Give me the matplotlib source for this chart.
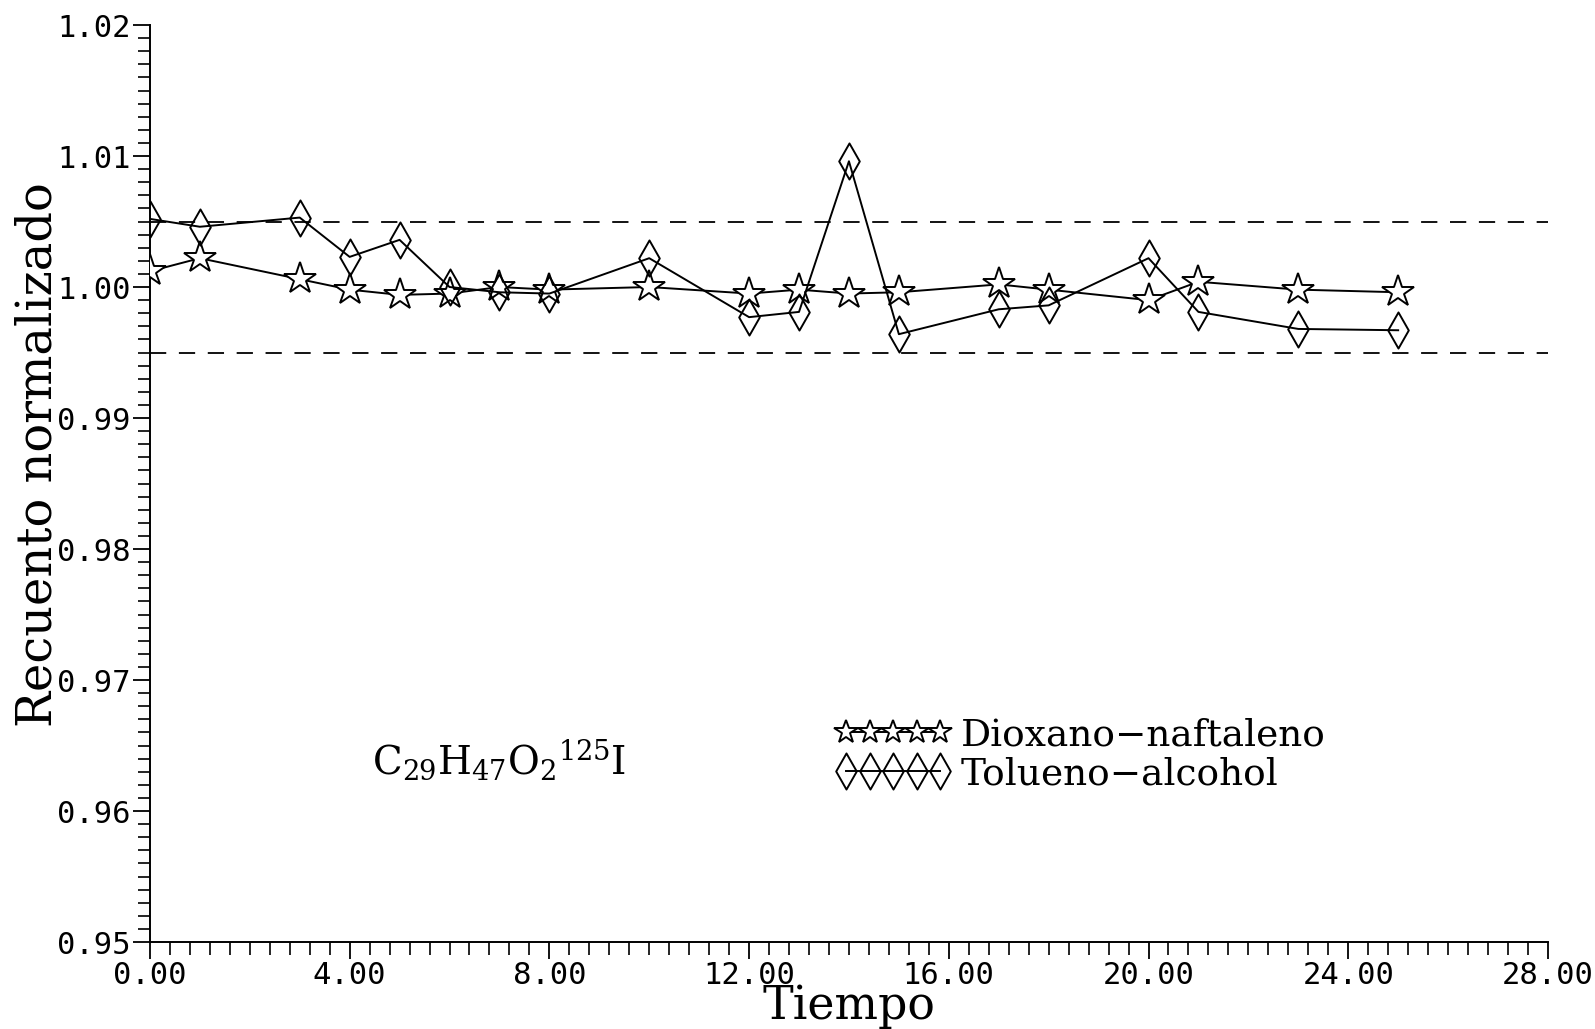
import matplotlib
matplotlib.use("Agg")
import matplotlib.pyplot as plt
from matplotlib.path import Path
from matplotlib.ticker import MultipleLocator, FormatStrFormatter

# ---- data ----
tiempo_dioxano = [0, 1, 3, 4, 5, 6, 7, 8, 10, 12, 13, 14, 15, 17, 18, 20, 21, 23, 25]
dioxano = [1.0012, 1.0022, 1.0006, 0.9998, 0.9994, 0.9995, 1.0000, 0.9998, 1.0000,
           0.9995, 0.9998, 0.9995, 0.9996, 1.0002, 0.9998, 0.9990, 1.0004, 0.9998, 0.9996]

tiempo_tolueno = [0, 1, 3, 4, 5, 6, 7, 8, 10, 12, 13, 14, 15, 17, 18, 20, 21, 23, 25]
tolueno = [1.0052, 1.0046, 1.0053, 1.0023, 1.0036, 1.0000, 0.9996, 0.9995, 1.0022,
           0.9977, 0.9981, 1.0096, 0.9964, 0.9983, 0.9986, 1.0022, 0.9981, 0.9968, 0.9967]

limites = [1.005, 0.995]
label_dioxano = "Dioxano\u2212naftaleno"
label_tolueno = "Tolueno\u2212alcohol"
formula = r"$\mathrm{C_{29}H_{47}O_{2}{}^{125}I}$"
xlabel = "Tiempo"
ylabel = "Recuento normalizado"

# ---- figure ----
plt.rcParams["mathtext.fontset"] = "dejavuserif"
fig = plt.figure(figsize=(15.95, 10.29), dpi=100)
ax = fig.add_axes([0.094, 0.0845, 0.8765, 0.8912])

diamond = Path([(0, 1), (0.57, 0), (0, -1), (-0.57, 0), (0, 1)],
               [Path.MOVETO, Path.LINETO, Path.LINETO, Path.LINETO, Path.CLOSEPOLY])

for yl in limites:
    ax.plot([0, 28], [yl, yl], color="black", lw=1.3, ls=(0, (9, 7)))

ax.plot(tiempo_dioxano, dioxano, color="black", lw=1.4, marker="*", markersize=24,
        markerfacecolor="white", markeredgecolor="black", markeredgewidth=1.4,
        label=label_dioxano, zorder=3)
ax.plot(tiempo_tolueno, tolueno, color="black", lw=1.4, marker=diamond, markersize=26,
        markerfacecolor="none", markeredgecolor="black", markeredgewidth=1.4,
        label=label_tolueno, zorder=3)

ax.set_xlim(0, 28)
ax.set_ylim(0.95, 1.02)

ax.xaxis.set_major_locator(MultipleLocator(4))
ax.xaxis.set_minor_locator(MultipleLocator(0.4))
ax.yaxis.set_major_locator(MultipleLocator(0.01))
ax.yaxis.set_minor_locator(MultipleLocator(0.001))
ax.xaxis.set_major_formatter(FormatStrFormatter("%.2f"))
ax.yaxis.set_major_formatter(FormatStrFormatter("%.2f"))

for s in ["top", "right"]:
    ax.spines[s].set_visible(False)
for s in ["left", "bottom"]:
    ax.spines[s].set_linewidth(1.4)

ax.tick_params(axis="both", which="major", direction="out", length=12, width=1.3,
               labelsize=22, pad=2)
ax.tick_params(axis="both", which="minor", direction="out", length=9, width=1.2)
for lab in ax.get_xticklabels() + ax.get_yticklabels():
    lab.set_fontfamily("DejaVu Sans Mono")

ax.set_xlabel(xlabel, fontsize=33, family="DejaVu Serif")
ax.set_ylabel(ylabel, fontsize=34.5, family="DejaVu Serif")
ax.xaxis.set_label_coords(0.5, -0.045)
ax.yaxis.set_label_coords(-0.063, 0.531)

ax.text(7.0, 0.9639, formula, fontsize=28, ha="center", va="center",
        family="DejaVu Serif")

leg = ax.legend(loc="upper left", bbox_to_anchor=(0.490, 0.2452), frameon=False,
                numpoints=5, handlelength=3.1, handletextpad=0.26, borderpad=0,
                borderaxespad=0, labelspacing=0.08,
                prop={"family": "DejaVu Serif", "size": 27})
hs = leg.legend_handles
hs[0].set_markersize(17.6)
hs[1].set_markersize(26)

fig.savefig("out.png", dpi=100)
